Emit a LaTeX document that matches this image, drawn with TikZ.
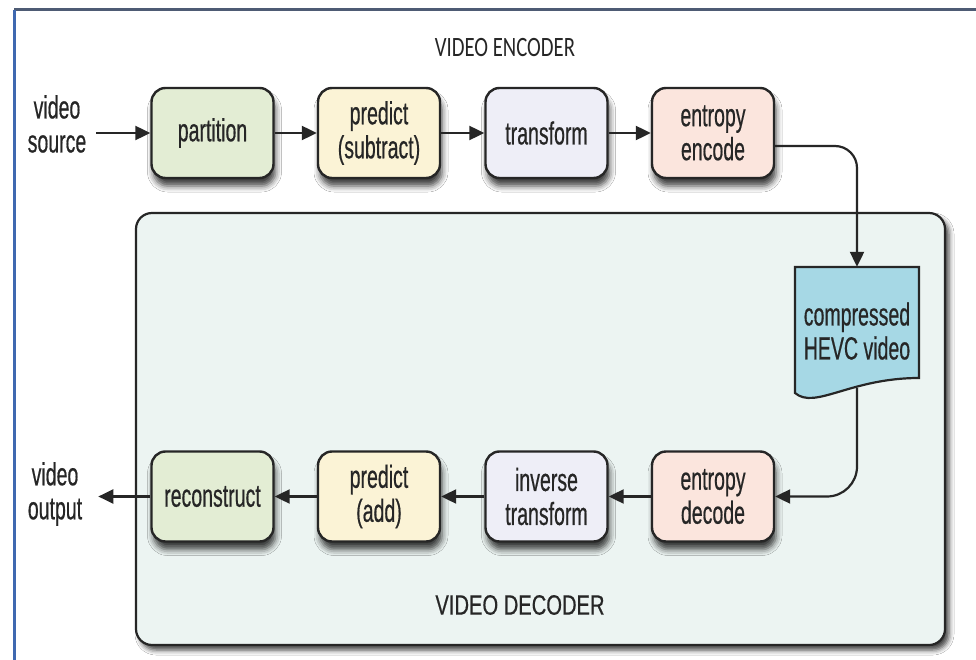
\documentclass[tikz,border=0pt]{standalone}
\usepackage{fontspec}
\setmainfont{Liberation Sans}
\newfontfamily\boxfont[FakeStretch=0.61,FakeBold=0.5]{Liberation Sans}
\newfontfamily\encfont[FakeStretch=0.74]{Carlito}
\newfontfamily\decfont[FakeStretch=0.72,FakeBold=0.5]{Liberation Sans}
\usetikzlibrary{arrows.meta,shadows.blur,calc}
\definecolor{cgreen}{HTML}{E3EDD4}
\definecolor{cyellow}{HTML}{FBF3D6}
\definecolor{clav}{HTML}{EEEEF7}
\definecolor{cpink}{HTML}{FBE5DD}
\definecolor{cpanel}{HTML}{ECF4F2}
\definecolor{cdoc}{HTML}{A6D8E5}
\definecolor{frametop}{HTML}{4E5B74}
\definecolor{frameleft}{HTML}{3F68B0}
\definecolor{ink}{HTML}{262626}
\tikzset{
  stagebox/.style={draw=ink, line width=2.4pt, rounded corners=14pt,
    minimum width=122pt, minimum height=90pt, align=center, inner sep=0pt,
    font=\boxfont\fontsize{32}{34}\selectfont, text=ink,
    blur shadow={shadow xshift=2pt, shadow yshift=-8pt, shadow blur radius=6pt, shadow opacity=75}},
  panelbox/.style={draw=ink, line width=2.2pt, fill=cpanel, rounded corners=16pt,
    minimum width=809pt, minimum height=432pt, inner sep=0pt,
    blur shadow={shadow xshift=4pt, shadow yshift=-5pt, shadow blur radius=5pt, shadow opacity=75}},
  sidelabel/.style={align=center, inner ysep=0pt, font=\boxfont\fontsize{32}{34}\selectfont, text=ink},
  flow/.style={line width=2.2pt, draw=ink, -{Triangle[length=15pt,width=14pt]}},
  docshape/.style={draw=ink, line width=2.2pt, fill=cdoc}
}
\begin{document}
\begin{tikzpicture}[x=1pt,y=-1pt]
\useasboundingbox (0,0) rectangle (976,660);
\fill[white] (0,0) rectangle (976,660);
% outer frame
\draw[line width=3pt, frametop] (14,10) -- (976,10);
\draw[line width=3pt, frameleft] (14,10) -- (14,660);
% decoder panel
\node[panelbox] (panel) at (540.5,429) {};
% title labels
\node[font=\encfont\fontsize{28}{30}\selectfont, text=ink] (enctitle) at (505,48) {VIDEO ENCODER};
\node[font=\decfont\fontsize{28}{30}\selectfont, text=ink] (dectitle) at (520,605) {VIDEO DECODER};
% encoder stages
\node[stagebox, fill=cgreen]  (e1) at (212.5,133) {partition};
\node[stagebox, fill=cyellow] (e2) at (379,133) {predict\\(subtract)};
\node[stagebox, fill=clav]    (e3) at (546.5,133) {transform};
\node[stagebox, fill=cpink]   (e4) at (713,133) {entropy\\encode};
% decoder stages
\node[stagebox, fill=cgreen]  (d1) at (212.5,496.5) {reconstruct};
\node[stagebox, fill=cyellow] (d2) at (379,496.5) {predict\\(add)};
\node[stagebox, fill=clav]    (d3) at (546.5,496.5) {inverse\\transform};
\node[stagebox, fill=cpink]   (d4) at (713,496.5) {entropy\\decode};
% compressed video document
\draw[docshape] (795,267) -- (919,267) -- (919,378)
  .. controls (850,378) and (815,410) .. (795,393) -- cycle;
\node[align=center, inner sep=0pt, minimum width=124pt, minimum height=128pt,
  font=\boxfont\fontsize{32}{34}\selectfont, text=ink] (doc) at (857,331) {compressed\\HEVC video};
% side labels
\node[sidelabel, inner xsep=10pt] (src) at (57,124) {video\\source};
\node[sidelabel, inner xsep=16pt] (out) at (55,494) {video\\output};
% encoder flow
\draw[flow] (src.east |- e1.west) -- (e1.west);
\draw[flow] (e1.east) -- (e2.west);
\draw[flow] (e2.east) -- (e3.west);
\draw[flow] (e3.east) -- (e4.west);
\draw[flow, rounded corners=22pt] ([yshift=-13pt]e4.east) -| (doc.north);
% decoder flow
\draw[flow, rounded corners=30pt] ([yshift=7pt]doc.south) |- (d4.east);
\draw[flow] (d4.west) -- (d3.east);
\draw[flow] (d3.west) -- (d2.east);
\draw[flow] (d2.west) -- (d1.east);
\draw[flow] (d1.west) -- (out.east |- d1.west);
\end{tikzpicture}
\end{document}
